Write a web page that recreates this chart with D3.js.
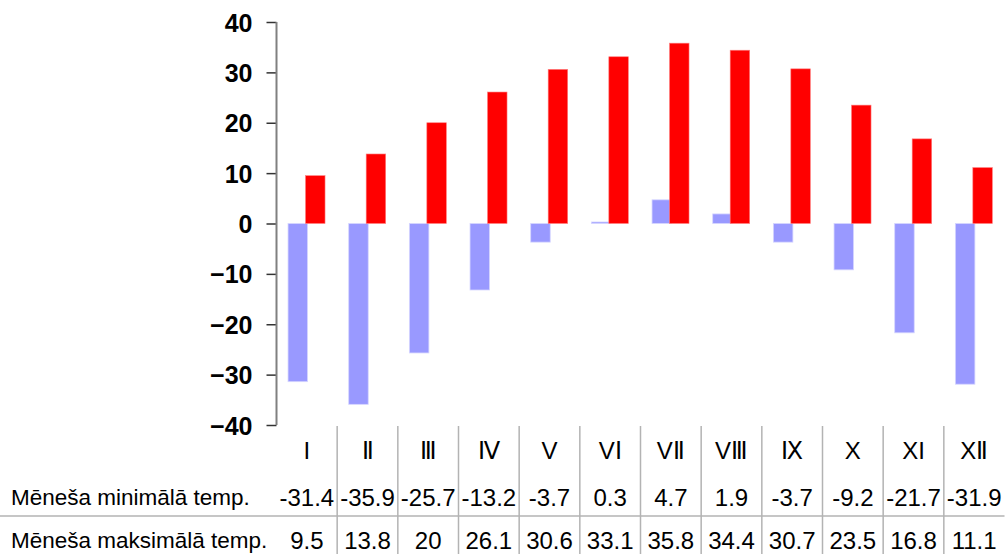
<!DOCTYPE html>
<html>
<head>
<meta charset="utf-8">
<script src="https://cdn.jsdelivr.net/npm/d3@7"></script>
<style>
  body { margin: 0; background: #fff; }
  svg { display: block; font-family: "Liberation Sans", Arial, sans-serif; }
</style>
</head>
<body>
<svg id="chart" width="1006" height="554"></svg>
<script>
// month labels (roman numerals as in the source sheet)
var months = ["I", "Ⅱ", "Ⅲ", "Ⅳ", "V", "VⅠ", "VⅡ", "VⅢ", "Ⅸ", "X", "XI", "XⅡ"];
var minTemp = [-31.4, -35.9, -25.7, -13.2, -3.7, 0.3, 4.7, 1.9, -3.7, -9.2, -21.7, -31.9];
var maxTemp = [9.5, 13.8, 20, 26.1, 30.6, 33.1, 35.8, 34.4, 30.7, 23.5, 16.8, 11.1];
var rowLabels = ["Mēneša minimālā temp.", "Mēneša maksimālā temp."];
var yTicks = [40, 30, 20, 10, 0, -10, -20, -30, -40];

var svg = d3.select("#chart");
var plotLeft = 276.5, plotRight = 1004.5, plotTop = 22, plotBottom = 425;

var xScale = d3.scaleBand()
    .domain(months)
    .range([plotLeft, plotRight]);
var bw = xScale.bandwidth();

var yScale = d3.scaleLinear()
    .domain([-40, 40])
    .range([plotBottom, plotTop]);

var data = months.map(function(m, i) {
    return {month: m, min: minTemp[i], max: maxTemp[i]};
});

// bars - min first, max drawn over it
var barW = bw * 0.322;
svg.append("g").selectAll("rect")
    .data(data)
    .enter().append("rect")
    .attr("x", function(d) { return xScale(d.month) + bw * 0.19; })
    .attr("y", function(d) { return yScale(Math.max(0, d.min)); })
    .attr("width", barW)
    .attr("height", function(d) { return Math.abs(yScale(d.min) - yScale(0)); })
    .attr("fill", "#9999ff")
    .style("stroke", "#d6d6ff")
    .style("stroke-width", "0.8px");

svg.append("g").selectAll("rect")
    .data(data)
    .enter().append("rect")
    .attr("x", function(d) { return xScale(d.month) + bw * 0.478; })
    .attr("y", function(d) { return yScale(Math.max(0, d.max)); })
    .attr("width", barW)
    .attr("height", function(d) { return Math.abs(yScale(d.max) - yScale(0)); })
    .attr("fill", "#ff0000")
    .style("stroke", "#ff8080")
    .style("stroke-width", "0.6px");

// y axis
var yAxis = d3.axisLeft(yScale)
    .tickValues(yTicks)
    .tickSize(10)
    .tickPadding(14)
    .tickFormat(d3.format("d"));

var gy = svg.append("g")
    .attr("transform", "translate(" + plotLeft + ",0)")
    .call(yAxis);
gy.select(".domain").remove();
gy.append("line")
    .attr("x1", 0).attr("x2", 0)
    .attr("y1", plotTop).attr("y2", plotBottom)
    .style("stroke", "#808080")
    .style("stroke-width", "2px");
gy.selectAll(".tick line")
    .style("stroke", "#333")
    .style("stroke-width", "1.5px");
gy.selectAll(".tick text")
    .style("font-size", "25px")
    .style("font-weight", "bold")
    .style("fill", "#000")
    .attr("dy", "0.36em");

// data table under the chart
var table = svg.append("g");
var rowY = [450, 497, 540];

// vertical separators between months
table.selectAll("line.vsep")
    .data(months.slice(1))
    .enter().append("line")
    .attr("class", "vsep")
    .attr("x1", function(m) { return xScale(m); })
    .attr("x2", function(m) { return xScale(m); })
    .attr("y1", plotBottom + 1)
    .attr("y2", 554)
    .style("stroke", "#b3b3b3")
    .style("stroke-width", "1.5px");

table.append("line")
    .attr("x1", 0).attr("x2", plotRight)
    .attr("y1", 516).attr("y2", 516)
    .style("stroke", "#b3b3b3")
    .style("stroke-width", "1.5px");

table.selectAll("text.month")
    .data(months)
    .enter().append("text")
    .attr("class", "month")
    .attr("x", function(m) { return xScale(m) + bw / 2; })
    .attr("y", rowY[0])
    .attr("dy", "0.36em")
    .attr("text-anchor", "middle")
    .style("font-size", "24px")
    .text(function(m) { return m; });

[minTemp, maxTemp].forEach(function(vals, r) {
    table.append("text")
        .attr("x", 11)
        .attr("y", rowY[r + 1])
        .attr("dy", "0.36em")
        .style("font-size", "22.5px")
        .text(rowLabels[r]);

    table.selectAll("text.v" + r)
        .data(vals)
        .enter().append("text")
        .attr("class", "v" + r)
        .attr("x", function(v, i) { return xScale(months[i]) + bw / 2; })
        .attr("y", rowY[r + 1])
        .attr("dy", "0.36em")
        .attr("text-anchor", "middle")
        .style("font-size", "24px")
        .text(function(v) { return v; });
});
</script>
</body>
</html>
